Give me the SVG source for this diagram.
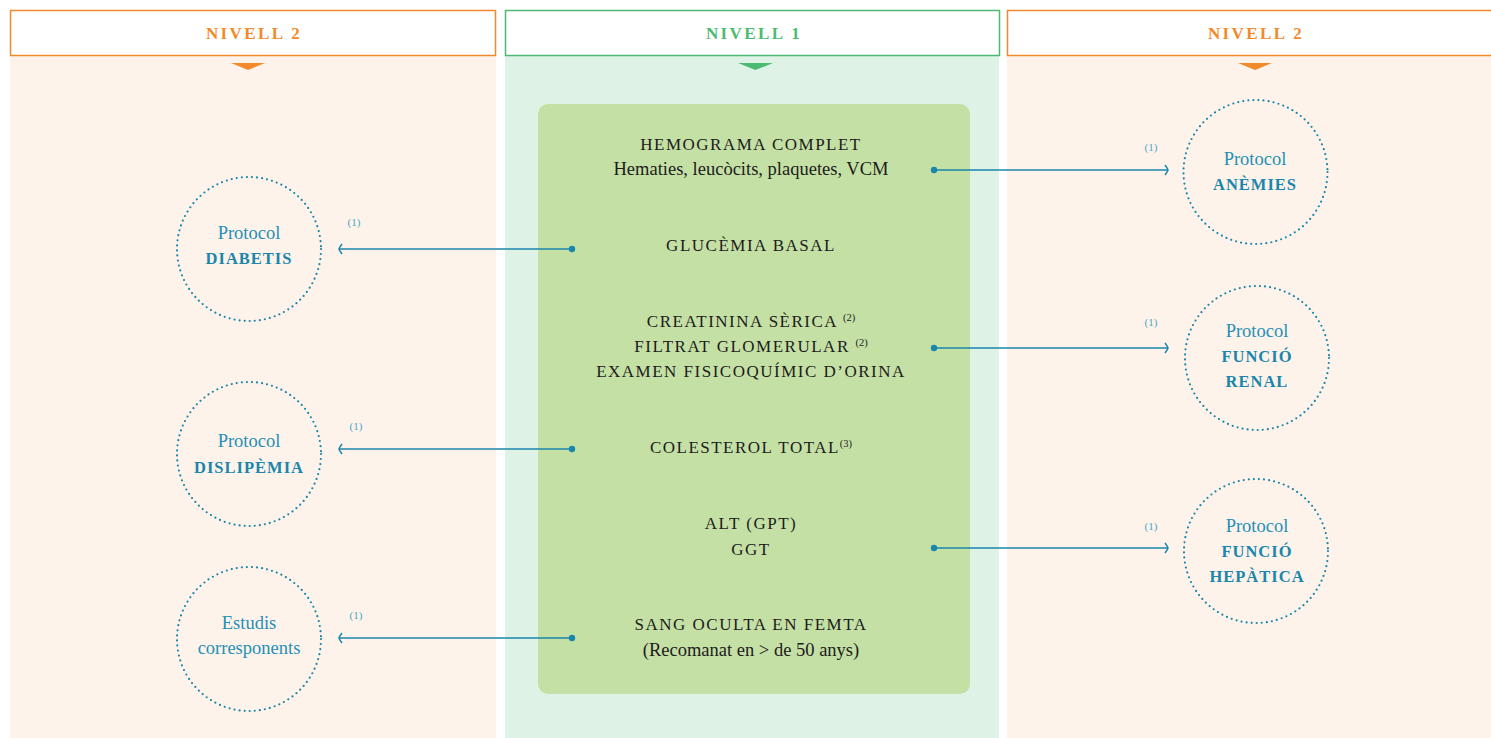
<svg xmlns="http://www.w3.org/2000/svg" width="1491" height="738" viewBox="0 0 1491 738">
<defs>
<style>
.hdr{fill:#fff;stroke-width:1.5}
.ho{stroke:#f28a2c}.hg{stroke:#4cbb72}
.ht{font-family:"Liberation Serif",serif;font-weight:bold;font-size:17px;letter-spacing:2.4px;text-anchor:middle}
.t{font-family:"Liberation Serif",serif;font-size:17px;fill:#1c1c1c;text-anchor:middle;letter-spacing:1.5px}
.tl{font-family:"Liberation Serif",serif;font-size:18.5px;fill:#1c1c1c;text-anchor:middle}
.sup{font-size:10.5px;letter-spacing:0}
.circ{fill:none;stroke:#1a86ab;stroke-width:2.2;stroke-linecap:round;stroke-dasharray:0 5.1}
.cp{font-family:"Liberation Serif",serif;font-size:18.5px;fill:#2590b5;text-anchor:middle}
.cb{font-family:"Liberation Serif",serif;font-size:16.5px;font-weight:bold;fill:#1a86ab;text-anchor:middle;letter-spacing:1px}
.con{stroke:#1a86ab;stroke-width:1.6;fill:none}
.dot{fill:#1a86ab}
.lab{font-family:"Liberation Serif",serif;font-size:11px;fill:#4aa6c6;text-anchor:middle}
</style>
<marker id="arr" viewBox="-8 -6 10 12" markerWidth="10" markerHeight="12" refX="0" refY="0" orient="auto" markerUnits="userSpaceOnUse">
<path d="M-3,-5 Q0,-1 0,0 Q0,1 -3,5" fill="none" stroke="#1a86ab" stroke-width="1.5"/>
</marker>
</defs>
<rect width="1491" height="738" fill="#fff"/>
<g id="col-left">
<rect x="10" y="56" width="486" height="682" fill="#fdf3ea"/>
<rect class="hdr ho" x="10.5" y="10.5" width="485" height="45"/>
<text class="ht" x="254" y="39" fill="#f28a2c">NIVELL 2</text>
<path d="M231,63 L265,63 L248,70 Z" fill="#f28a2c"/>
</g>
<g id="col-mid">
<rect x="505" y="56" width="494" height="682" fill="#dff2e6"/>
<rect class="hdr hg" x="505.5" y="10.5" width="494" height="45"/>
<text class="ht" x="754" y="39" fill="#4cbb72">NIVELL 1</text>
<path d="M738,63 L773,63 L755.5,70 Z" fill="#4cbb72"/>
</g>
<g id="col-right">
<rect x="1007" y="56" width="484" height="682" fill="#fdf3ea"/>
<rect class="hdr ho" x="1007.5" y="10.5" width="490" height="45"/>
<text class="ht" x="1256" y="39" fill="#f28a2c">NIVELL 2</text>
<path d="M1238,63 L1272,63 L1255,70 Z" fill="#f28a2c"/>
</g>
<g id="tests">
<rect x="538" y="104" width="432" height="590" rx="10" fill="#c5e0a5"/>
<text class="t" x="751" y="150">HEMOGRAMA COMPLET</text>
<text class="tl" x="751" y="175">Hematies, leucòcits, plaquetes, VCM</text>
<text class="t" x="751" y="251">GLUCÈMIA BASAL</text>
<text class="t" x="751" y="327">CREATININA SÈRICA <tspan class="sup" dy="-6">(2)</tspan></text>
<text class="t" x="751" y="352">FILTRAT GLOMERULAR <tspan class="sup" dy="-6">(2)</tspan></text>
<text class="t" x="751" y="377">EXAMEN FISICOQUÍMIC D’ORINA</text>
<text class="t" x="751" y="453">COLESTEROL TOTAL<tspan class="sup" dy="-6">(3)</tspan></text>
<text class="t" x="751" y="529">ALT (GPT)</text>
<text class="t" x="751" y="555">GGT</text>
<text class="t" x="751" y="630">SANG OCULTA EN FEMTA</text>
<text class="tl" x="751" y="656">(Recomanat en &gt; de 50 anys)</text>
</g>
<g id="diabetis">
<circle class="circ" cx="249" cy="249" r="72"/>
<text class="cp" x="249" y="239">Protocol</text>
<text class="cb" x="249" y="264">DIABETIS</text>
</g>
<g id="dislipemia">
<circle class="circ" cx="249" cy="454" r="72"/>
<text class="cp" x="249" y="447">Protocol</text>
<text class="cb" x="249" y="473">DISLIPÈMIA</text>
</g>
<g id="estudis">
<circle class="circ" cx="249" cy="639" r="72"/>
<text class="cp" x="249" y="629">Estudis</text>
<text class="cp" x="249" y="654">corresponents</text>
</g>
<g id="anemies">
<circle class="circ" cx="1255.5" cy="172" r="72"/>
<text class="cp" x="1255" y="165">Protocol</text>
<text class="cb" x="1255" y="190">ANÈMIES</text>
</g>
<g id="renal">
<circle class="circ" cx="1257" cy="358" r="72"/>
<text class="cp" x="1257" y="337">Protocol</text>
<text class="cb" x="1257" y="362">FUNCIÓ</text>
<text class="cb" x="1257" y="387">RENAL</text>
</g>
<g id="hepatica">
<circle class="circ" cx="1256" cy="551" r="72"/>
<text class="cp" x="1257" y="532">Protocol</text>
<text class="cb" x="1257" y="557">FUNCIÓ</text>
<text class="cb" x="1257" y="582">HEPÀTICA</text>
</g>
<g id="connectors">
<line class="con" x1="934" y1="170" x2="1168" y2="170" marker-end="url(#arr)"/>
<circle class="dot" cx="934" cy="170" r="3.2"/>
<text class="lab" x="1151" y="151">(1)</text>
<line class="con" x1="572" y1="249" x2="339" y2="249" marker-end="url(#arr)"/>
<circle class="dot" cx="572" cy="249" r="3.2"/>
<text class="lab" x="354" y="226">(1)</text>
<line class="con" x1="934" y1="348" x2="1168" y2="348" marker-end="url(#arr)"/>
<circle class="dot" cx="934" cy="348" r="3.2"/>
<text class="lab" x="1151" y="326">(1)</text>
<line class="con" x1="572" y1="449" x2="339" y2="449" marker-end="url(#arr)"/>
<circle class="dot" cx="572" cy="449" r="3.2"/>
<text class="lab" x="356" y="430">(1)</text>
<line class="con" x1="934" y1="548" x2="1168" y2="548" marker-end="url(#arr)"/>
<circle class="dot" cx="934" cy="548" r="3.2"/>
<text class="lab" x="1151" y="530">(1)</text>
<line class="con" x1="572" y1="638" x2="339" y2="638" marker-end="url(#arr)"/>
<circle class="dot" cx="572" cy="638" r="3.2"/>
<text class="lab" x="356" y="619">(1)</text>
</g>
</svg>
